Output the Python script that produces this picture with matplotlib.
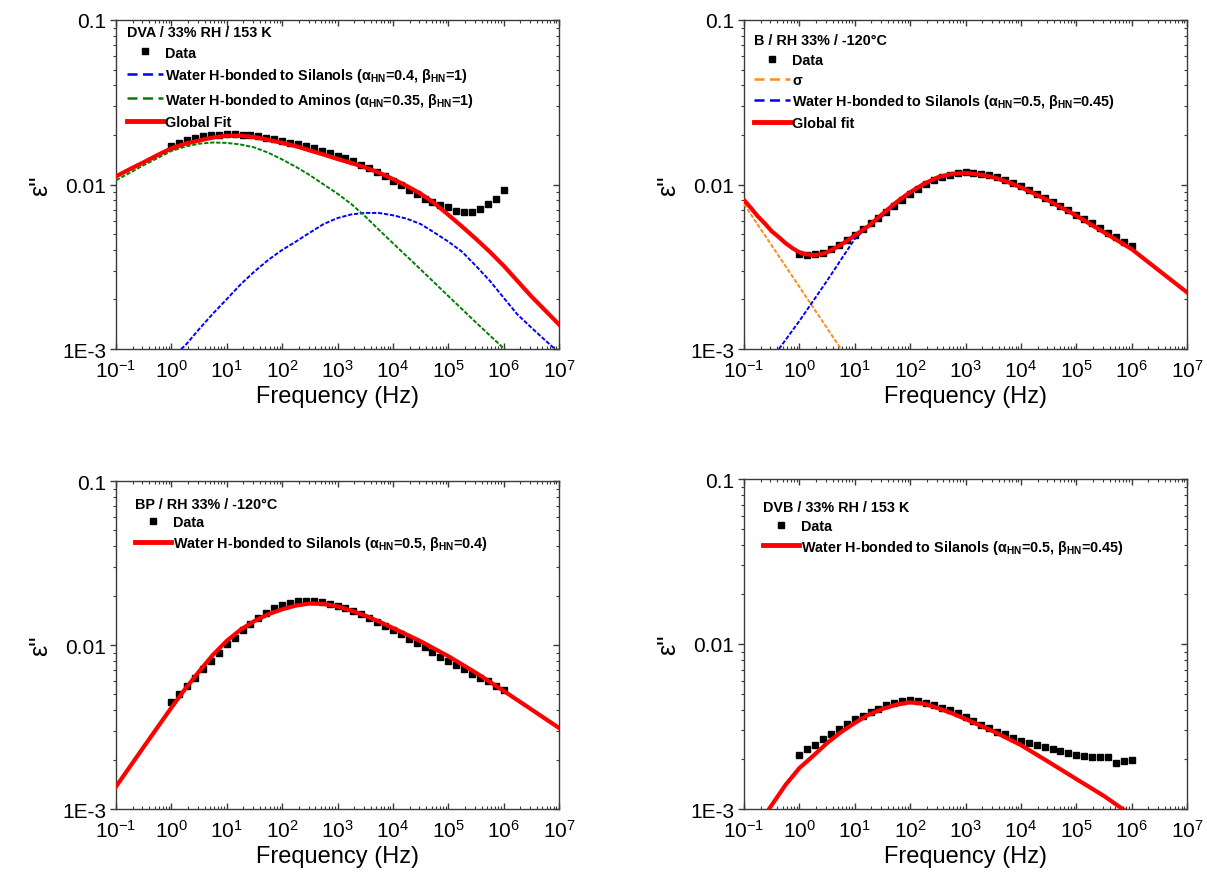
import numpy as np
import matplotlib
matplotlib.use('Agg')
import matplotlib.pyplot as plt
from matplotlib.lines import Line2D
from matplotlib.ticker import FixedLocator, NullFormatter

plt.rcParams['font.family'] = ['Liberation Sans', 'DejaVu Sans']
plt.rcParams['mathtext.fontset'] = 'custom'
plt.rcParams['mathtext.rm'] = 'Liberation Sans'
plt.rcParams['mathtext.bf'] = 'Liberation Sans:bold'
plt.rcParams['mathtext.it'] = 'Liberation Sans:italic'
plt.rcParams['mathtext.default'] = 'regular'

# ---------------- data ----------------
# measurement frequencies: 7 points per decade, 1 Hz .. 1 MHz
freq_mantissa = [1.0, 1.389, 1.931, 2.683, 3.728, 5.179, 7.197]
freq_decades = [1, 10, 100, 1e3, 1e4, 1e5]
freq = [m * d for d in freq_decades for m in freq_mantissa] + [1e6]

# Panel A: DVA / 33% RH / 153 K
dva_data = [0.0172, 0.0180, 0.0187, 0.0193, 0.0196, 0.0199, 0.0201,
            0.0202, 0.0202, 0.0201, 0.0199, 0.0196, 0.0193, 0.0189,
            0.0185, 0.0180, 0.0176, 0.0171, 0.0166, 0.0160, 0.0155,
            0.0150, 0.0144, 0.0138, 0.0132, 0.0126, 0.0119, 0.0112,
            0.0105, 0.0099, 0.0093, 0.0087, 0.0082, 0.0078, 0.0075,
            0.0073, 0.0069, 0.00684, 0.00684, 0.0071, 0.0076, 0.0082,
            0.0092]
dva_fit_logf = [-1, -0.75, -0.5, -0.25, 0, 0.25, 0.5, 0.75, 1, 1.25, 1.5, 1.75, 2, 2.25,
                2.5, 2.75, 3, 3.25, 3.5, 3.75, 4, 4.25, 4.5, 4.75, 5, 5.25, 5.5, 5.75, 6, 6.5, 7]
dva_fit = [0.0112, 0.0124, 0.01365, 0.0151, 0.0166, 0.0177, 0.0185, 0.0193, 0.0198, 0.0198,
           0.0194, 0.0187, 0.0179, 0.0171, 0.0161, 0.0152, 0.0143, 0.0135, 0.0127, 0.0118,
           0.0108, 0.0098, 0.0088, 0.0077, 0.00655, 0.00555, 0.00467, 0.00390, 0.00321,
           0.00209, 0.00141]
dva_amino_logf = [-1, -0.5, 0, 0.25, 0.5, 0.75, 1, 1.25, 1.5, 1.75, 2, 2.25, 2.5, 2.75,
                  3, 3.25, 3.5, 3.75, 4, 4.5, 5, 5.5, 6, 6.5]
dva_amino = [0.0106, 0.0131, 0.0160, 0.0170, 0.0177, 0.0180, 0.0179, 0.0175, 0.0168, 0.0156,
             0.0142, 0.0128, 0.0114, 0.0100, 0.0088, 0.0076, 0.0064, 0.0053, 0.0044, 0.00305,
             0.0021, 0.00145, 0.00101, 0.0007]
dva_silanol_logf = [0.174, 0.25, 0.5, 0.75, 1, 1.25, 1.5, 1.75, 2, 2.25, 2.5, 2.75, 3, 3.25,
                    3.5, 3.75, 4, 4.25, 4.5, 4.75, 5, 5.25, 5.5, 5.75, 6, 6.25, 6.5, 6.75, 7]
dva_silanol = [0.0010, 0.00105, 0.00132, 0.00164, 0.00201, 0.00247, 0.00296, 0.00348, 0.00400,
               0.00450, 0.00510, 0.00575, 0.00625, 0.00658, 0.00672, 0.00671, 0.00650, 0.00620,
               0.00575, 0.0051, 0.00450, 0.0039, 0.00320, 0.0026, 0.00205, 0.00162, 0.00135,
               0.00113, 0.00095]

# Panel B: B / RH 33% / -120 C
b_data = [0.00380, 0.00375, 0.00376, 0.00385, 0.00405, 0.00430, 0.00460,
          0.00495, 0.00535, 0.00580, 0.00630, 0.00685, 0.00745, 0.00810,
          0.00880, 0.00945, 0.01005, 0.01060, 0.01110, 0.01150, 0.01175,
          0.01185, 0.01180, 0.01165, 0.01140, 0.01105, 0.01065, 0.01020,
          0.00975, 0.00930, 0.00880, 0.00830, 0.00785, 0.00740, 0.00695,
          0.00655, 0.00615, 0.00580, 0.00545, 0.00510, 0.00478, 0.00448,
          0.00420]
b_fit_logf = [-1, -0.875, -0.75, -0.625, -0.5, -0.375, -0.25, -0.125, 0, 0.125, 0.25, 0.375,
              0.5, 0.75, 1, 1.25, 1.5, 1.75, 2, 2.25, 2.5, 2.75, 3, 3.25, 3.5, 3.75, 4, 4.5,
              5, 5.5, 6, 6.5, 7]
b_fit = [0.00805, 0.0072, 0.0064, 0.0058, 0.0052, 0.0048, 0.0044, 0.0041, 0.00387, 0.00377,
         0.00372, 0.00376, 0.00387, 0.0043, 0.0049, 0.0056, 0.00662, 0.0078, 0.00898, 0.0101,
         0.01107, 0.0116, 0.01175, 0.0115, 0.01107, 0.0104, 0.00962, 0.00798, 0.00647,
         0.00512, 0.00405, 0.00299, 0.00221]
b_sigma_logf = [-1, 1]
b_sigma = [0.0076, 0.00075]
b_silanol_logf = [-0.37, 0, 0.5, 1, 1.25, 1.5, 1.75, 2, 2.25, 2.5, 2.75, 3, 3.25, 3.5, 4, 4.5,
                  5, 5.5, 6, 6.5, 7]
b_silanol = [0.0010, 0.00148, 0.0026, 0.00467, 0.0056, 0.0064, 0.0076, 0.0088, 0.0099, 0.0108,
             0.0114, 0.0116, 0.0114, 0.0110, 0.0096, 0.0080, 0.0065, 0.0051, 0.00405, 0.0030,
             0.0022]

# Panel C: BP / RH 33% / -120 C
bp_data = [0.00452, 0.0050, 0.0056, 0.0063, 0.0071, 0.0080, 0.0089,
           0.0101, 0.0111, 0.0124, 0.0134, 0.0146, 0.0156, 0.0167,
           0.0175, 0.0181, 0.0185, 0.0186, 0.0186, 0.0183, 0.0178,
           0.0172, 0.0167, 0.0161, 0.0154, 0.0146, 0.0138, 0.0130,
           0.0123, 0.0116, 0.0109, 0.0103, 0.0097, 0.0091, 0.0085,
           0.0080, 0.0076, 0.0071, 0.0067, 0.0063, 0.0060, 0.0056,
           0.0053]
bp_fit_logf = [-1, -0.5, 0, 0.25, 0.5, 0.75, 1, 1.25, 1.5, 1.75, 2, 2.25, 2.5, 2.75, 3, 3.25,
               3.5, 3.75, 4, 4.5, 5, 5.5, 6, 6.5, 7]
bp_fit = [0.00137, 0.00239, 0.00415, 0.0054, 0.0069, 0.0087, 0.0106, 0.0124, 0.0140, 0.0154,
          0.0165, 0.0174, 0.0179, 0.0178, 0.0172, 0.0162, 0.0151, 0.0139, 0.0127, 0.01054,
          0.00855, 0.00677, 0.00525, 0.00405, 0.00312]

# Panel D: DVB / 33% RH / 153 K
dvb_data = [0.00211, 0.00231, 0.00244, 0.00265, 0.00283, 0.00304, 0.00326,
            0.00349, 0.00367, 0.00385, 0.00406, 0.00425, 0.00441, 0.00452,
            0.00456, 0.00452, 0.00441, 0.00427, 0.00411, 0.00398, 0.00380,
            0.00362, 0.00342, 0.00324, 0.00308, 0.00294, 0.00283, 0.00270,
            0.00259, 0.00250, 0.00243, 0.00237, 0.00231, 0.00225, 0.00219,
            0.00213, 0.00210, 0.00208, 0.00207, 0.00207, 0.00191, 0.00195,
            0.00199]
dvb_fit_logf = [-0.6, -0.548, -0.25, 0, 0.25, 0.5, 0.75, 1, 1.25, 1.5, 1.75, 2, 2.25, 2.5,
                2.75, 3, 3.5, 4, 4.5, 5, 5.5, 5.8, 6]
dvb_fit = [0.00094, 0.0010, 0.0014, 0.00177, 0.0021, 0.00251, 0.00292, 0.00332, 0.00373,
           0.00404, 0.00429, 0.00443, 0.00435, 0.00409, 0.00381, 0.00351, 0.00296, 0.00244,
           0.00193, 0.00152, 0.00120, 0.00102, 0.00092]

x_tick_exp = [-1, 0, 1, 2, 3, 4, 5, 6, 7]
y_ticks = [1e-3, 1e-2, 1e-1]
y_tick_labels = ['1E-3', '0.01', '0.1']

# ---------------- styling ----------------
W, H = 1207, 879
fig = plt.figure(figsize=(W / 100, H / 100), dpi=100)

def px_axes(l, t, r, b):
    return fig.add_axes([l / W, 1 - b / H, (r - l) / W, (b - t) / H])

SPINE = '#3a3a3a'
RED = '#ff0000'
BLUE = '#0000ff'
GREEN = '#008000'
ORANGE = '#ff8c1a'
DASH_PLOT = (0, (2.2, 0.9))
DASH_LEG = (0, (4, 2.2))
LEG_SIZE = 10.4

def lf(v):
    return 10 ** np.array(v, dtype=float)

def setup(ax):
    ax.set_xscale('log')
    ax.set_yscale('log')
    ax.set_xlim(0.1, 1e7)
    ax.set_ylim(1e-3, 0.1)
    ax.set_xticks([10.0 ** e for e in x_tick_exp])
    ax.set_xticklabels([r'$10^{%d}$' % e for e in x_tick_exp])
    ax.xaxis.set_minor_locator(FixedLocator(
        [m * 10.0 ** e for e in range(-1, 7) for m in range(2, 10)]))
    ax.xaxis.set_minor_formatter(NullFormatter())
    ax.set_yticks(y_ticks)
    ax.set_yticklabels(y_tick_labels)
    ax.yaxis.set_minor_locator(FixedLocator(
        [m * 10.0 ** e for e in range(-3, -1) for m in range(2, 10)]))
    ax.yaxis.set_minor_formatter(NullFormatter())
    ax.tick_params(axis='x', which='both', direction='in', top=True, bottom=True,
                   colors=SPINE, labelcolor='black', labelsize=15, pad=7)
    ax.tick_params(axis='x', which='major', length=4.5, width=1)
    ax.tick_params(axis='x', which='minor', length=2.5, width=0.8)
    ax.tick_params(axis='y', which='both', direction='out', left=True, right=False,
                   colors=SPINE, labelcolor='black', labelsize=15, pad=3)
    ax.tick_params(axis='y', which='major', length=4, width=1)
    ax.tick_params(axis='y', which='minor', length=2.5, width=0.8)
    for s in ax.spines.values():
        s.set_color(SPINE)
        s.set_linewidth(1.0)
    # right-hand inward ticks
    axr = ax.twinx()
    axr.set_yscale('log')
    axr.set_ylim(1e-3, 0.1)
    axr.set_yticks(y_ticks)
    axr.yaxis.set_minor_locator(FixedLocator(
        [m * 10.0 ** e for e in range(-3, -1) for m in range(2, 10)]))
    axr.tick_params(axis='y', which='both', direction='in', colors=SPINE,
                    labelright=False)
    axr.tick_params(axis='y', which='major', length=4.5, width=1)
    axr.tick_params(axis='y', which='minor', length=2.5, width=0.8)
    for s in axr.spines.values():
        s.set_visible(False)
    ax.set_xlabel('Frequency (Hz)', fontsize=17, labelpad=3)
    ax.set_ylabel("ε''", fontsize=18)
    ax.yaxis.set_label_coords(-0.145, 0.5)

def plot_data(ax, y):
    ax.plot(freq, y, ls='none', marker='s', ms=4.6, color='black', mec='black', zorder=2)

def add_legend(ax, handles, labels, title, dx, dy, spacing):
    leg = ax.legend(handles, labels, title=title, loc='upper left',
                    bbox_to_anchor=(dx / ax.bbox.width, 1 - dy / ax.bbox.height),
                    frameon=False, borderpad=0, borderaxespad=0, handlelength=2.5,
                    handletextpad=0.15, labelspacing=spacing,
                    prop={'weight': 'bold', 'size': LEG_SIZE},
                    title_fontproperties={'weight': 'bold', 'size': LEG_SIZE},
                    alignment='left')
    return leg

h_data = Line2D([], [], ls='none', marker='s', ms=4.6, color='black')
h_red = Line2D([], [], color=RED, lw=3.5)
h_blue = Line2D([], [], color=BLUE, lw=1.8, ls=DASH_LEG)
h_green = Line2D([], [], color=GREEN, lw=1.8, ls=DASH_LEG)
h_orange = Line2D([], [], color=ORANGE, lw=1.8, ls=DASH_LEG)

HN = r'$_{\mathbf{HN}}$'

# ---- Panel A ----
axA = px_axes(116, 21, 559, 350)
setup(axA)
plot_data(axA, dva_data)
axA.plot(lf(dva_silanol_logf), dva_silanol, color=BLUE, lw=1.4, ls=DASH_PLOT, zorder=3)
axA.plot(lf(dva_amino_logf), dva_amino, color=GREEN, lw=1.4, ls=DASH_PLOT, zorder=3)
axA.plot(lf(dva_fit_logf), dva_fit, color=RED, lw=3, zorder=4)
add_legend(axA, [h_data, h_blue, h_green, h_red],
           ['Data',
            'Water H-bonded to Silanols (α' + HN + '=0.4, β' + HN + '=1)',
            'Water H-bonded to Aminos (α' + HN + '=0.35, β' + HN + '=1)',
            'Global Fit'],
           'DVA / 33% RH / 153 K', 11, 5, 0.45)

# ---- Panel B ----
axB = px_axes(744, 21, 1187, 350)
setup(axB)
plot_data(axB, b_data)
axB.plot(lf(b_sigma_logf), b_sigma, color=ORANGE, lw=1.4, ls=DASH_PLOT, zorder=3)
axB.plot(lf(b_silanol_logf), b_silanol, color=BLUE, lw=1.4, ls=DASH_PLOT, zorder=3)
axB.plot(lf(b_fit_logf), b_fit, color=RED, lw=3, zorder=4)
add_legend(axB, [h_data, h_orange, h_blue, h_red],
           ['Data', 'σ',
            'Water H-bonded to Silanols (α' + HN + '=0.5, β' + HN + '=0.45)',
            'Global fit'],
           'B / RH 33% / -120°C', 10, 13, 0.4)

# ---- Panel C ----
axC = px_axes(116, 482, 559, 810)
setup(axC)
plot_data(axC, bp_data)
axC.plot(lf(bp_fit_logf), bp_fit, color=RED, lw=3, zorder=4)
add_legend(axC, [h_data, h_red],
           ['Data', 'Water H-bonded to Silanols (α' + HN + '=0.5, β' + HN + '=0.4)'],
           'BP / RH 33% / -120°C', 19, 16, 0.3)

# ---- Panel D ----
axD = px_axes(744, 480, 1187, 810)
setup(axD)
plot_data(axD, dvb_data)
axD.plot(lf(dvb_fit_logf), dvb_fit, color=RED, lw=3, zorder=4)
add_legend(axD, [h_data, h_red],
           ['Data', 'Water H-bonded to Silanols (α' + HN + '=0.5, β' + HN + '=0.45)'],
           'DVB / 33% RH / 153 K', 19, 21, 0.33)

fig.savefig('out.png', dpi=100)
